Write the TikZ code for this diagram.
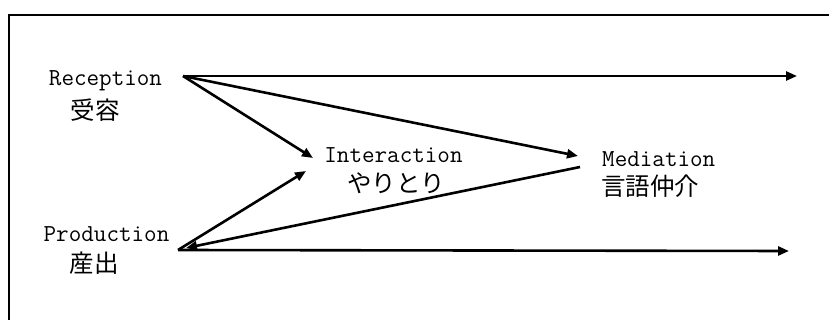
\documentclass[tikz,border=0pt]{standalone}
\usepackage{fontspec}
\newfontfamily\cjk{Noto Sans CJK JP}
\usetikzlibrary{arrows.meta}
\begin{document}
\begin{tikzpicture}[x=1pt,y=-1pt,
  lat/.style={inner sep=0pt,font=\fontsize{24.4}{27}\selectfont\ttfamily},
  jp/.style={inner sep=0pt,font=\fontsize{24.5}{27}\selectfont\cjk},
  arr/.style={line width=2.6pt,-{Triangle[length=11pt,width=9pt]}}]
\useasboundingbox (0,0) rectangle (829,320);
\draw[line width=1.6pt] (9,320) -- (9,15) -- (829,15);
% labels
\node[lat] (rec) at (105.5,81) {Reception};
\node[jp]  (recj) at (95,110) {受容};
\node[lat] (pro) at (106.5,234) {Production};
\node[jp]  (proj) at (94,263) {産出};
\node[lat] (int) at (393.5,155) {Interaction};
\node[jp]  (intj) at (396,183) {やりとり};
\node[lat,anchor=west] (med) at (602,159) {Mediation};
\node[jp,anchor=west] (medj) at (601,186) {言語仲介};
% connector points
\coordinate (R) at (183,76);
\coordinate (P) at (178,250);
\coordinate (Rend) at (797,76);
\coordinate (Pend) at (789,251);
\coordinate (Iin1) at (313,158);
\coordinate (Iin2) at (306,171);
\coordinate (Min) at (578,156);
\coordinate (Mout) at (580,167);
\coordinate (Pin) at (186,248);
% arrows
\draw[arr] (R) -- (Rend);
\draw[arr] (R) -- (Iin1);
\draw[arr] (R) -- (Min);
\draw[arr] (P) -- (Pend);
\draw[arr] (P) -- (Iin2);
\draw[arr] (Mout) -- (Pin);
\end{tikzpicture}
\end{document}
